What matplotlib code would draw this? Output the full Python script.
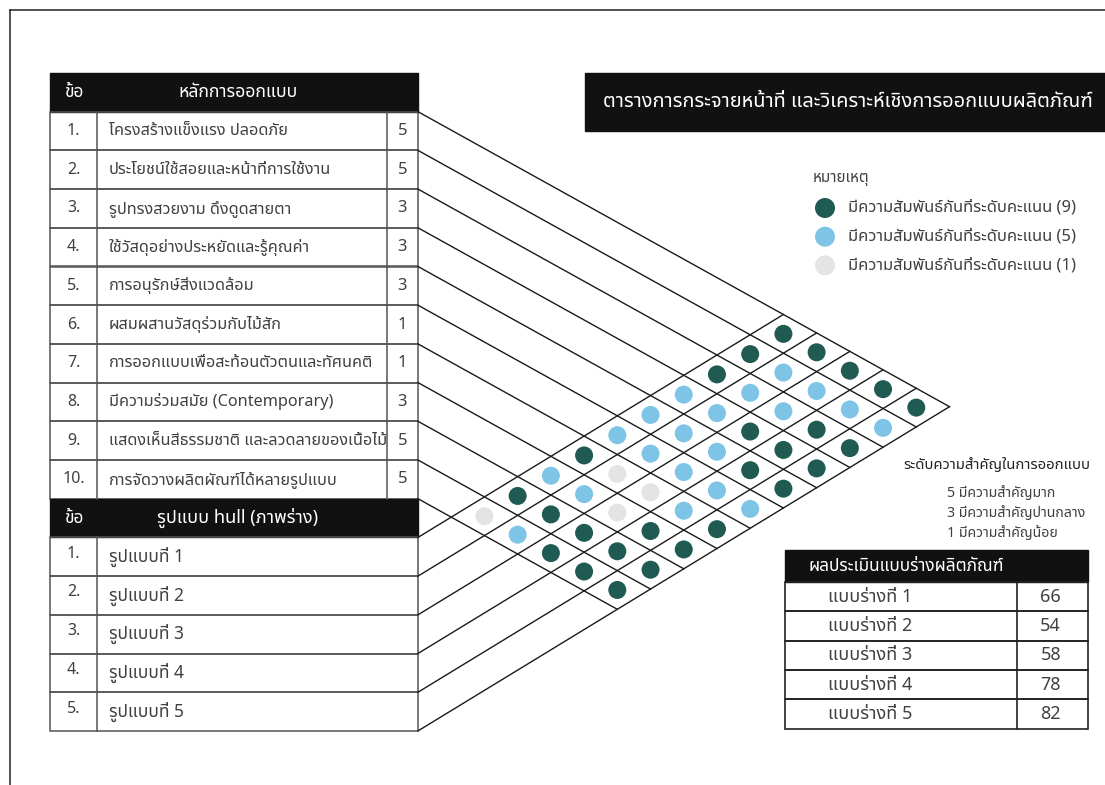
import matplotlib
matplotlib.use('Agg')
import matplotlib.pyplot as plt
from matplotlib import font_manager
from matplotlib.ft2font import FT2Font
from matplotlib.patches import Rectangle, Circle

# ---- data ----
principles = ['โครงสร้างแข็งแรง ปลอดภัย',
              'ประโยชน์ใช้สอยและหน้าที่การใช้งาน',
              'รูปทรงสวยงาม ดึงดูดสายตา',
              'ใช้วัสดุอย่างประหยัดและรู้คุณค่า',
              'การอนุรักษ์สิ่งแวดล้อม',
              'ผสมผสานวัสดุร่วมกับไม้สัก',
              'การออกแบบเพื่อสะท้อนตัวตนและทัศนคติ',
              'มีความร่วมสมัย (Contemporary)',
              'แสดงเห็นสีธรรมชาติ และลวดลายของเนื้อไม้',
              'การจัดวางผลิตผัณฑ์ได้หลายรูปแบบ']
weights = [5, 5, 3, 3, 3, 1, 1, 3, 5, 5]
hulls = ['รูปแบบที่ 1', 'รูปแบบที่ 2', 'รูปแบบที่ 3', 'รูปแบบที่ 4', 'รูปแบบที่ 5']
# relation score: rows = principles, cols = hull forms
relation = [[9, 9, 9, 9, 9],
            [9, 5, 5, 5, 5],
            [9, 5, 5, 9, 9],
            [5, 5, 9, 9, 9],
            [5, 5, 5, 9, 9],
            [5, 5, 5, 5, 5],
            [9, 1, 1, 5, 9],
            [5, 5, 1, 9, 9],
            [9, 9, 9, 9, 9],
            [1, 5, 9, 9, 9]]
drafts = ['แบบร่างที่ 1', 'แบบร่างที่ 2', 'แบบร่างที่ 3', 'แบบร่างที่ 4', 'แบบร่างที่ 5']
draft_scores = [66, 54, 58, 78, 82]
legend_levels = [9, 5, 1]
legend_labels = ['มีความสัมพันธ์กันที่ระดับคะแนน (9)',
                 'มีความสัมพันธ์กันที่ระดับคะแนน (5)',
                 'มีความสัมพันธ์กันที่ระดับคะแนน (1)']
importance_labels = ['5 มีความสำคัญมาก', '3 มีความสำคัญปานกลาง', '1 มีความสำคัญน้อย']
title = 'ตารางการกระจายหน้าที่ และวิเคราะห์เชิงการออกแบบผลิตภัณฑ์'

colors = {9: '#1f5a53', 5: '#7ec4e7', 1: '#e4e4e4'}


# find a font that has Thai glyphs
def thai_font():
    names = []
    for f in font_manager.fontManager.ttflist:
        try:
            cmap = FT2Font(f.fname).get_charmap()
        except Exception:
            continue
        if 0x0E01 in cmap:
            names.append(f.name)
    for pref in ['Noto Sans Thai', 'Noto Sans Thai UI', 'Tahoma', 'Loma', 'Garuda', 'Sarabun']:
        if pref in names:
            return pref
    return names[0] if names else 'DejaVu Sans'


plt.rcParams['font.family'] = [thai_font(), 'DejaVu Sans']

fig = plt.figure(figsize=(11.05, 7.85), dpi=100)
ax = fig.add_axes([0, 0, 1, 1])
ax.set_xlim(0, 1105)
ax.set_ylim(785, 0)
ax.axis('off')

txt = '#404040'
edge = '#555555'

# page border (top + left)
ax.plot([10, 1105], [10, 10], color='#333333', lw=1.2)
ax.plot([10, 10], [10, 785], color='#333333', lw=1.2)

# ---- left tables ----
x0, xnum, xw, x1 = 50, 97, 387, 418
ytop, rh = 73, 38.7

# top header
ax.add_patch(Rectangle((x0, ytop), x1 - x0, rh, color='#111111'))
ax.text(74, ytop + rh / 2, 'ข้อ', color='white', fontsize=12.5, ha='center', va='center')
ax.text(238, ytop + rh / 2, 'หลักการออกแบบ', color='white', fontsize=12.7, ha='center', va='center')

for i, (p, w) in enumerate(zip(principles, weights)):
    y = ytop + rh * (i + 1)
    ax.add_patch(Rectangle((x0, y), x1 - x0, rh, fill=False, ec=edge, lw=1.1))
    ax.plot([xnum, xnum], [y, y + rh], color=edge, lw=1.1)
    ax.plot([xw, xw], [y, y + rh], color=edge, lw=1.1)
    ax.text((x0 + xnum) / 2, y + rh / 2, f'{i + 1}.', color=txt, fontsize=11.5, ha='center', va='center')
    clip = Rectangle((xnum, y), xw - xnum, rh, transform=ax.transData)
    t = ax.text(xnum + 12, y + rh / 2, p, color=txt, fontsize=11.7, ha='left', va='center')
    t.set_clip_path(clip)
    ax.text((xw + x1) / 2, y + rh / 2, str(w), color=txt, fontsize=12, ha='center', va='center')

# bottom header
yb = ytop + rh * 11
ax.add_patch(Rectangle((x0, yb), x1 - x0, rh, color='#111111'))
ax.text(74, yb + rh / 2, 'ข้อ', color='white', fontsize=12.5, ha='center', va='center')
ax.text(238, yb + rh / 2, 'รูปแบบ hull (ภาพร่าง)', color='white', fontsize=13, ha='center', va='center')
for j, h in enumerate(hulls):
    y = yb + rh * (j + 1)
    ax.add_patch(Rectangle((x0, y), x1 - x0, rh, fill=False, ec=edge, lw=1.1))
    ax.plot([xnum, xnum], [y, y + rh], color=edge, lw=1.1)
    ax.text((x0 + xnum) / 2, y + rh / 2 - 3, f'{j + 1}.', color=txt, fontsize=11.5, ha='center', va='center')
    ax.text(xnum + 12, y + rh / 2, h, color=txt, fontsize=12.5, ha='left', va='center')

# ---- relationship lattice ----
s_down, s_up = 0.555, 0.61
y_down = [ytop + rh * (k + 1) for k in range(len(principles) + 1)]
y_up = [yb + rh * (m + 1) for m in range(len(hulls) + 1)]

for yd in y_down:
    dx = (y_up[-1] - yd) / (s_down + s_up)
    ax.plot([x1, x1 + dx], [yd, yd + s_down * dx], color='#1a1a1a', lw=1.0)
for yu in y_up:
    dx = (yu - y_down[0]) / (s_down + s_up)
    ax.plot([x1, x1 + dx], [yu, yu - s_up * dx], color='#1a1a1a', lw=1.0)

for i, row in enumerate(relation):
    for j, v in enumerate(row):
        yd = y_down[0] + rh * (i + 0.5)
        yu = y_up[0] + rh * (j + 0.5)
        dx = (yu - yd) / (s_down + s_up)
        ax.add_patch(Circle((x1 + dx, yd + s_down * dx), 9, color=colors[v], lw=0))

# ---- title box ----
ax.add_patch(Rectangle((585, 73), 520, 58, color='#111111'))
ax.text(848, 102, title, color='white', fontsize=14.4, ha='center', va='center')

# ---- legend ----
ax.text(813, 178, 'หมายเหตุ', color=txt, fontsize=11, ha='left', va='center')
for k, (lv, lb) in enumerate(zip(legend_levels, legend_labels)):
    yy = 208 + 28.7 * k
    ax.add_patch(Circle((825, yy), 10, color=colors[lv], lw=0))
    ax.text(848, yy, lb, color=txt, fontsize=11.9, ha='left', va='center')

# ---- importance key ----
ax.text(1090, 465, 'ระดับความสำคัญในการออกแบบ', color='#222222', fontsize=10.7,
        fontweight='bold', ha='right', va='center')
for k, lb in enumerate(importance_labels):
    ax.text(947, 493 + 20 * k, lb, color=txt, fontsize=10.2, ha='left', va='center')

# ---- draft scores table ----
rx0, rdiv, rx1 = 785, 1017, 1088
ry0, rhh, rrh = 550, 32, 29.3
ax.add_patch(Rectangle((rx0, ry0), rx1 - rx0, rhh, color='#111111'))
ax.text(809, ry0 + rhh / 2, 'ผลประเมินแบบร่างผลิตภัณฑ์', color='white', fontsize=12.4, ha='left', va='center')
for k, (d, sc) in enumerate(zip(drafts, draft_scores)):
    y = ry0 + rhh + rrh * k
    ax.add_patch(Rectangle((rx0, y), rx1 - rx0, rrh, fill=False, ec='#222222', lw=1.2))
    ax.plot([rdiv, rdiv], [y, y + rrh], color='#222222', lw=1.2)
    ax.text(828, y + rrh / 2, d, color=txt, fontsize=13, ha='left', va='center')
    ax.text(1061, y + rrh / 2, str(sc), color=txt, fontsize=13, ha='right', va='center')

fig.savefig('out.png', dpi=100)
